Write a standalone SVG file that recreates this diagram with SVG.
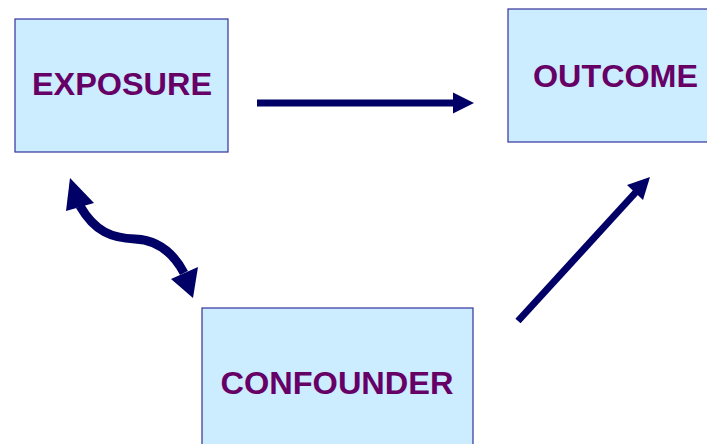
<svg xmlns="http://www.w3.org/2000/svg" width="707" height="444" viewBox="0 0 707 444">
<style>
.box{fill:#CCECFF;stroke:#333399;stroke-width:1.2}
.lbl{font-family:"Liberation Sans",Arial,sans-serif;font-weight:bold;font-size:31px;fill:#660066;text-anchor:middle}
.ln{stroke:#000066;fill:none}
.hd{fill:#000066}
</style>
<rect width="707" height="444" fill="#ffffff"/>
<g id="exposure">
<rect class="box" x="15" y="19" width="213" height="133"/>
<text class="lbl" x="122" y="95" textLength="180" lengthAdjust="spacingAndGlyphs">EXPOSURE</text>
</g>
<g id="outcome">
<rect class="box" x="508" y="9" width="213" height="133"/>
<text class="lbl" x="615.5" y="87" textLength="165" lengthAdjust="spacingAndGlyphs">OUTCOME</text>
</g>
<g id="confounder">
<rect class="box" x="202" y="308" width="271" height="150"/>
<text class="lbl" x="337" y="394" textLength="233" lengthAdjust="spacingAndGlyphs">CONFOUNDER</text>
</g>
<g id="connectors">
<line class="ln" x1="257" y1="103" x2="455" y2="103" stroke-width="7"/>
<polygon class="hd" points="474,103 453,92.5 453,113.5"/>
<line class="ln" x1="518" y1="321" x2="636" y2="192" stroke-width="7"/>
<polygon class="hd" points="650,177 627,185 643,200"/>
<path class="ln" d="M 80,206 C 95,232 112,238 135,239 C 158,240 174,254 184,273" stroke-width="9"/>
<polygon class="hd" points="70,178 66,211 94,203"/>
<polygon class="hd" points="193,298 171,279 198,267"/>
</g>
</svg>
